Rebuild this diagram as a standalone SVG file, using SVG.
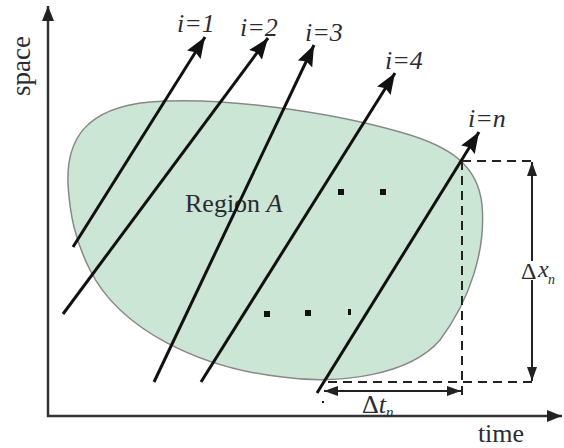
<svg xmlns="http://www.w3.org/2000/svg" width="564" height="448" viewBox="0 0 564 448">
<style>
.txt{font-family:"Liberation Serif","Times New Roman",serif;fill:#2b2b33}
.it{font-style:italic}
.traj{stroke:#111;stroke-width:3;fill:none;marker-end:url(#head)}
.axis{stroke:#333;stroke-width:2.5;fill:none}
.dash{stroke:#222;stroke-width:2;stroke-dasharray:9 6;fill:none}
.dim{stroke:#222;stroke-width:2;fill:none}
.dot{fill:#111}
</style>
<defs>
<marker id="head" markerUnits="userSpaceOnUse" markerWidth="22" markerHeight="16" refX="21" refY="8" orient="auto">
<path d="M0,0 L21,8 L0,16 L3,8 z" fill="#111"/>
</marker>
<marker id="ahead" markerUnits="userSpaceOnUse" markerWidth="15" markerHeight="12" refX="15" refY="6" orient="auto">
<path d="M0,0 L15,6 L0,12 z" fill="#222"/>
</marker>
<marker id="dhead" markerUnits="userSpaceOnUse" markerWidth="14" markerHeight="10" refX="14" refY="5" orient="auto-start-reverse">
<path d="M0,0 L14,5 L0,10 z" fill="#222"/>
</marker>
</defs>

<g id="region">
<path d="M68,185 C66,140 85,108 150,102 C220,96 330,112 400,132 C450,146 478,165 482,205 C486,250 470,300 440,340 C410,375 340,385 282,377 C200,368 120,330 90,270 C75,240 70,215 68,185 Z" fill="#cce6d5" stroke="#888" stroke-width="1.5"/>
<text class="txt" x="185" y="212" font-size="26">Region <tspan class="it">A</tspan></text>
<rect class="dot" x="338" y="189" width="6" height="6"/>
<rect class="dot" x="380" y="189" width="6" height="6"/>
<rect class="dot" x="264" y="311" width="6" height="6"/>
<rect class="dot" x="305" y="310" width="6" height="6"/>
<rect class="dot" x="348" y="309" width="3" height="6"/>
</g>

<g id="axes">
<line class="axis" x1="48" y1="417" x2="48" y2="6" marker-end="url(#ahead)"/>
<line class="axis" x1="47" y1="416" x2="562" y2="416" marker-end="url(#ahead)"/>
<text class="txt" font-size="27" transform="translate(30,66) rotate(-90)" text-anchor="middle">space</text>
<text class="txt" x="501" y="442" font-size="26" text-anchor="middle">time</text>
</g>

<g id="connectors">
<line class="traj" x1="73" y1="247" x2="205" y2="37"/>
<line class="traj" x1="63" y1="314" x2="268" y2="38"/>
<line class="traj" x1="154" y1="382" x2="314" y2="45"/>
<line class="traj" x1="201" y1="382" x2="395" y2="73"/>
<line class="traj" x1="317" y1="393" x2="479" y2="132"/>
</g>

<g id="labels">
<text class="txt it" x="177" y="32" font-size="26">i=1</text>
<text class="txt it" x="240" y="36" font-size="26">i=2</text>
<text class="txt it" x="305" y="41" font-size="26">i=3</text>
<text class="txt it" x="385" y="69" font-size="26">i=4</text>
<text class="txt it" x="468" y="127" font-size="26">i=n</text>
</g>

<g id="dimensions">
<polyline class="dash" points="462,161 535,161"/>
<polyline class="dash" points="462,161 462,398"/>
<polyline class="dash" points="328,382 538,382"/>
<line class="dim" x1="532" y1="261" x2="532" y2="162" marker-end="url(#dhead)"/>
<line class="dim" x1="532" y1="280" x2="532" y2="381" marker-end="url(#dhead)"/>
<line class="dim" x1="324" y1="391" x2="461" y2="391" marker-start="url(#dhead)" marker-end="url(#dhead)"/>
<text class="txt" x="521" y="279" font-size="24">Δ<tspan class="it" x="538" y="277" font-size="24">x</tspan><tspan class="it" x="548" y="284" font-size="14">n</tspan></text>
<text class="txt" x="362" y="413" font-size="26">Δ<tspan class="it">t</tspan><tspan class="it" font-size="15" dy="4">n</tspan></text>
<rect class="dot" x="322" y="401" width="2" height="2"/>
</g>
</svg>
